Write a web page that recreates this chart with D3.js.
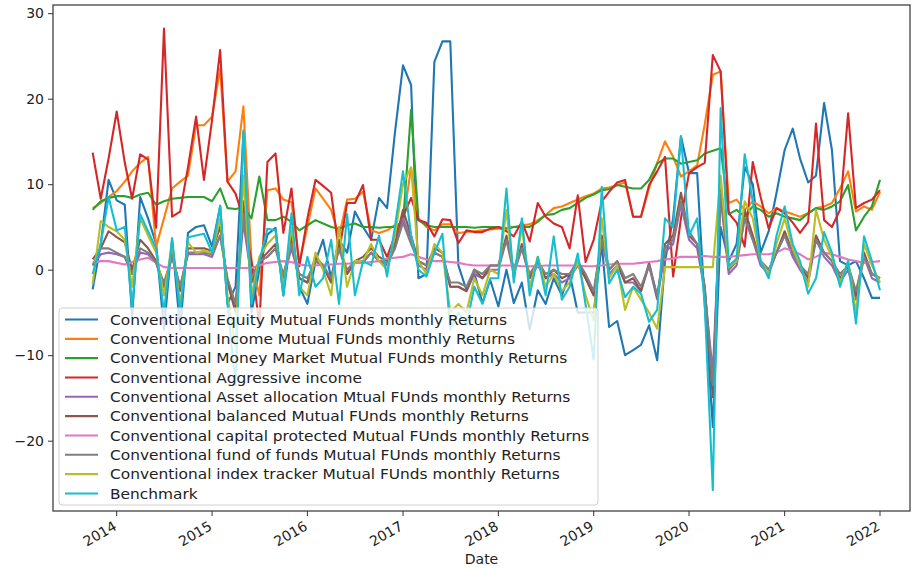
<!DOCTYPE html>
<html>
<head>
<meta charset="utf-8">
<script src="https://cdn.jsdelivr.net/npm/d3@7"></script>
<style>
  html, body { margin: 0; padding: 0; background: #fff; }
  svg { display: block; font-family: "DejaVu Sans", sans-serif; }
</style>
</head>
<body>
<svg id="chart" width="912" height="570"></svg>
<script>
// ---- data (monthly, 2013-10 .. 2022-01) ----
const startMonth = "2013-10-01";
const endMonth = "2022-01-01";

const seriesNames = [
  "Conventional Equity Mutual FUnds monthly Returns",
  "Conventional Income Mutual FUnds monthly Returns",
  "Conventional Money Market Mutual FUnds monthly Returns",
  "Conventional Aggressive income",
  "Conventional Asset allocation Mtual FUnds monthly Returns",
  "Conventional balanced Mutual FUnds monthly Returns",
  "Conventional capital protected Mutual FUnds monthly Returns",
  "Conventional fund of funds Mutual FUnds monthly Returns",
  "Conventional index tracker Mutual FUnds monthly Returns",
  "Benchmark"
];

const seriesColors = ["#1f77b4","#ff7f0e","#2ca02c","#d62728","#9467bd","#8c564b","#e377c2","#7f7f7f","#bcbd22","#17becf"];

const equity = [
  -2.3, 3, 10.5, 8.1, 7.6, -5.5, 8.5, 6, 3, -7,
  3.5, -7, 4.3, 5.0, 5.2, 2.7, 7.4, -4, -2, 16,
  -5, 0, 4.1, 4.9, -3, 4.5, -2, -4, 1, 3.5,
  -1, 3.5, 2, 6.8, 5.0, 3.5, 8.4, 7.2, 16, 23.9,
  21.6, -1, -0.5, 24.3, 26.7, 26.7, 0.5, -2.4, -0.4, -3.9,
  -1.2, -4.3, 0, -3.9, -1.5, -7, -2.4, -4, -1, -3,
  -0.5, -5, -5, -5, 3, -6.7, -6, -10, -9.4, -8.8,
  -6.5, -10.6, 1, 6, 15.6, 11.3, 11.3, -4, -18.4, 5,
  1, 3, 12, 10, 2, 4.5, 9, 14, 16.5, 13,
  10.2, 11, 19.5, 14, 1, 0.5, 1, -1, -3.3, -3.3
];
const income = [
  7.2, 7.8, 8.5, 9.2, 10.3, 11.5, 12.5, 13.2, 2.7, 6,
  9.5, 10.3, 11, 16.9, 16.9, 17.9, 23.5, 10.3, 11.5, 19.1,
  1, -3, 9.3, 9.5, 8.2, 7.9, 0.8, 5, 9.5, 8.3,
  7.0, 3.9, 8.2, 8.3, 9.1, 4.6, 4.3, 4.6, 5.2, 5.5,
  11.9, 6.0, 5.0, 4.6, 5.3, 5.3, 4.3, 4.4, 4.5, 4.6,
  4.7, 4.8, 4.9, 5.0, 5.2, 5.3, 5.8, 6.4, 7.2, 7.4,
  7.8, 8.2, 8.6, 8.9, 9.5, 9.6, 9.9, 10.2, 6.2, 6.2,
  9.5, 12.5, 15.0, 13.2, 10.9, 11.5, 12.2, 17, 22.8, 23.2,
  7.8, 8.2, 7.0, 8.0, 7.4, 6.6, 7.2, 6.8, 6.5, 6.2,
  6.6, 7.2, 7.4, 7.8, 9.5, 11.5, 6.8, 7.4, 7.0, 9.1
];
const moneyMarket = [
  7.0, 8.0, 8.4, 8.6, 8.6, 8.4, 8.8, 9.0, 7.6, 8.0,
  8.3, 8.4, 8.5, 8.5, 8.5, 8.0, 9.5, 7.2, 7.1, 7.3,
  6.0, 10.9, 5.8, 5.8, 6.2, 5.6, 4.6, 5.2, 5.8, 5.4,
  5.0, 4.8, 5.2, 5.4, 5.0, 5.0, 4.9, 5.0, 5.0, 5.4,
  18.7, 5.8, 5.2, 5.0, 5.0, 5.0, 5.0, 5.0, 4.9, 5.0,
  5.0, 5.0, 4.8, 5.0, 5.0, 5.0, 5.6, 6.4, 6.5, 7.0,
  7.2, 7.8, 8.4, 8.8, 9.3, 9.4, 9.9, 9.7, 9.5, 9.5,
  10.5, 12.4, 13.0, 13.0, 12.4, 12.6, 12.8, 13.6, 13.9, 14.2,
  6.5, 7.0, 6.2, 7.4, 7.0, 6.2, 6.6, 6.2, 6.0, 5.8,
  6.6, 7.2, 7.0, 7.4, 8.0, 9.9, 4.6, 6.2, 7.4, 10.5
];
const aggressive = [
  13.7, 8.3, 13, 18.5, 12.5, 8.3, 13.5, 12.9, 4.9, 28.2,
  6.2, 6.8, 12, 17.9, 10.5, 17.5, 25.7, 10.3, 8.9, 6,
  1, -6.5, 12.6, 13.6, 4.3, 9.5, 0.4, 6, 10.5, 9.8,
  9.0, 2, 7.8, 7.8, 9.9, 3.5, 3.5, 1.5, 4, 6.2,
  8.4, 5.8, 5.5, 3.9, 5.9, 5.8, 3.1, 4.6, 4.4, 4.4,
  4.8, 5.0, 4.5, 3.9, 5.6, 3.3, 7.8, 6.2, 5.4, 5.0,
  2.5, 8.7, 0.9, 3.5, 8, 9.1, 10.2, 10.5, 6.2, 6.2,
  9.9, 11.5, 13.2, -0.8, 6, 11.3, 12.0, 12.5, 25.1, 23.2,
  6.6, 5.5, 2.7, 12.6, 8.5, 4.8, 7.2, 6.6, 5.5, 4.3,
  5.6, 17.1, 5.8, 5.0, 7, 18.3, 7.2, 7.8, 8.2, 9.3
];
const assetAllocation = [
  0.5, 1.8, 2, 1.8, 1.5, -0.5, 2, 1.8, 0.8, -2,
  1.5, -2, 1.8, 1.8, 1.8, 1.5, 4, -1.2, -4.5, 5.5,
  -1, 1, 1.5, 2.5, -1, 2.5, -1, -1.5, 1, 0.3,
  -1.5, 2.5, -0.5, 0.8, 0.8, 2, 1, 0.5, 2.5, 6,
  3.5, 0.5, 0, 2, 1.5, -2, -2, -2.5, -0.5, -1,
  0, 0, 3.5, -0.5, 2.5, -1, 0.5, -1, -0.5, -1.5,
  -1, 0.5, -1, -3, 3.5, -0.5, 0.5, -1.5, -1.5, -2.5,
  0.5, -3.5, 2, 3, 7.6, 3.5, 2.5, -2.5, -12, 8.5,
  -0.5, 0.5, 6, 3.5, 0.5, -0.5, 2, 4, 1.5, 0,
  -1.5, 3.5, 1.5, 0.5, -1.5, 0, -3.5, 1.5, -1, -1.5
];
const balanced = [
  1.2, 2.5, 4.5, 3.8, 3.2, 0, 3.5, 2.5, 1, -2,
  2, -2.5, 2.5, 2.5, 2.5, 2.2, 5, -1.5, -5, 8,
  -1.5, 1, 2, 3, -1, 3.5, -1, -1.5, 1.5, 0.5,
  -1.5, 3, -0.5, 1, 1.5, 2.5, 1.5, 1, 3, 7,
  4, 1, 0.5, 2.5, 2, -2, -2, -2.5, 0, -1,
  0.5, 0.5, 4, 0, 3, -1, 1, -1, 0, -1,
  -0.5, 1, -1, -3, 4, 0, 1, -1.5, -1, -2.5,
  0.8, -3.2, 3, 4, 9, 4, 3, -2, -14.9, 10,
  0, 1, 7, 4, 1, 0, 2, 4.5, 2, 0.5,
  -1, 4, 2, 1, -1, 0.5, -3, 2, -0.5, -1
];
const capitalProtected = [
  0.8, 1.0, 1.0, 0.8, 0.6, 0.9, 1.2, 1.4, 0.8, 0.3,
  0.2, 0.2, 0.2, 0.2, 0.2, 0.2, 0.2, 0.2, 0.2, 0.2,
  0.2, 0.5, 0.8, 0.9, 1.0, 0.9, 0.6, 0.5, 0.5, 0.6,
  0.6, 0.7, 0.7, 0.8, 0.8, 0.9, 1.0, 1.3, 1.4, 1.5,
  1.8, 1.5, 1.2, 1.0, 1.0, 0.9, 0.8, 0.6, 0.5, 0.5,
  0.5, 0.5, 0.5, 0.5, 0.4, 0.4, 0.4, 0.5, 0.5, 0.5,
  0.5, 0.5, 0.4, 0.4, 0.5, 0.6, 0.7, 0.7, 0.7, 0.8,
  0.9, 1.0, 1.2, 1.3, 1.5, 1.5, 1.5, 1.6, 1.5, 1.5,
  1.5, 1.6, 1.7, 1.8, 1.8, 1.8, 2.0, 2.5, 2.2, 1.8,
  1.2, 1.5, 2.0, 1.8, 1.5, 1.2, 1.0, 0.8, 0.9, 1.0
];
const fundOfFunds = [
  0.5, 2.5, 2.5, 2, 1.5, -0.5, 2.5, 2, 0.8, -1.5,
  1.5, -2, 2, 2, 2, 1.8, 4, -1, -4, 6.5,
  -1, 1, 1.5, 2.5, -0.5, 3, -0.5, -1, 1, 0.5,
  -1, 2.5, 0, 1, 1, 2, 1, 0.8, 2.5, 5.5,
  3, 1, 0.5, 2, 1.5, -1.5, -1.5, -2, 0, -0.5,
  0.5, 0.5, 3.5, 0, 2.5, -0.5, 1, -0.5, 0, -0.5,
  -0.5, 1, -0.5, -2.5, 3.5, 0, 1, -1, -0.5, -2,
  0.5, -3, 2.5, 3.5, 8, 4.5, 3, -2, -13.5, 9,
  0, 1, 6, 3.5, 1, 0, 2, 4, 2, 0.5,
  -0.5, 3.5, 2, 1, -0.5, 0.5, -2.5, 1.5, -0.5, -1
];
const indexTracker = [
  -1.7, 5.7, 5, 4.5, 3.5, -2, 6, 4, 2, -3,
  3, -4, 3.2, 2, 2.2, 2, 6, -3, -9, 11,
  -3, 1.5, 3, 4, -2, 5, -2, -3, 2, 0,
  -3, 5, -2, 1, 1, 3, 1, 0, 4, 10,
  12, 1, -0.5, 3, 2, -5, -4, -5, -1, -3,
  0, -0.5, 7, -1, 5, -2, 1.5, -2, -0.5, -2.5,
  -1.5, 1, -3, -6, 6, -1, 0.5, -4.7, -2, -3.5,
  -5, -6.9, 0.3, 0.3, 0.3, 0.3, 0.3, 0.3, 0.3, 11,
  0.3, 1, 8, 6, 1, -0.5, 3, 6, 2.5, 0.5,
  -2, 7, 3.5, 1.5, -1.5, 1, -5, 3, 0.5, -1.5
];
const benchmark = [
  -0.5, 3, 8.5, 4.6, 5.0, -4.5, 6.5, 4.5, 2.5, -5,
  3.7, -5, 3.8, 4.0, 4.2, 2.0, 7.5, -4, -13.5, 16.3,
  -4, 1, 4.8, 4.6, -3, 6.6, -3, 1.5, -2, -1,
  3.5, -4, 6.5, -3, 1, 0.5, 4, -0.8, 5, 11.5,
  4, 0, -0.8, 2, 4.2, -7, -5, -6.5, -2, -4,
  -1, -1, 9.5, -1.5, 6.0, -3, 1.5, -3, 3.9, -3.5,
  -2, 1.9, -4.1, -10.5, 9.7, -1.6, 0, -3.2, -2, -2.8,
  -6.1, -4.7, 6, 5, 15.6, 4, 6, -4, -25.8, 18.9,
  0.4, 1.3, 13.5, 8, 1, -1, 4, 7.4, 3, 1,
  -2.8, -1, 4.4, 2, -2, 1, -6.3, 3.9, 1, -2.4
];

const seriesValues = [equity, income, moneyMarket, aggressive, assetAllocation,
  balanced, capitalProtected, fundOfFunds, indexTracker, benchmark];

const yTicks = [-20, -10, 0, 10, 20, 30];
const xTickYears = [2014, 2015, 2016, 2017, 2018, 2019, 2020, 2021, 2022];
const xLabel = "Date";

// ---- layout ----
const svg = d3.select("#chart");
const W = 912, H = 570;
const plot = { left: 53, top: 5, right: 910, bottom: 511 };

svg.append("rect").attr("width", W).attr("height", H).attr("fill", "#fff");

const months = d3.timeMonth.range(new Date(startMonth + "T00:00:00"), d3.timeMonth.offset(new Date(endMonth + "T00:00:00"), 1));

const x = d3.scaleTime()
  .domain([new Date(2014, 0, 1), new Date(2022, 0, 1)])
  .range([116.7, 880]);
const y = d3.scaleLinear().domain([-20, 30]).range([440.7, 13.2]);

// clip
svg.append("defs").append("clipPath").attr("id", "clip")
  .append("rect").attr("x", plot.left).attr("y", plot.top)
  .attr("width", plot.right - plot.left).attr("height", plot.bottom - plot.top);

const line = d3.line()
  .x((d, i) => x(months[i]))
  .y(d => y(d));

const gLines = svg.append("g").attr("clip-path", "url(#clip)");
seriesValues.forEach((vals, k) => {
  gLines.append("path")
    .datum(vals)
    .attr("fill", "none")
    .attr("stroke", seriesColors[k])
    .attr("stroke-width", 2.1)
    .attr("stroke-linejoin", "round")
    .attr("d", line);
});

// axes
const yAxis = d3.axisLeft(y).tickValues(yTicks).tickSize(5).tickPadding(4);
const gy = svg.append("g").attr("transform", `translate(${plot.left},0)`).call(yAxis);
gy.select(".domain").remove();
gy.selectAll("text").attr("font-size", 14).attr("fill", "#222").attr("font-family", "DejaVu Sans");
gy.selectAll("line").attr("stroke", "#333");

const xTickDates = xTickYears.map(yr => new Date(yr, 0, 1));
const gx = svg.append("g").attr("transform", `translate(0,${plot.bottom})`);
gx.selectAll("line.tick").data(xTickDates).join("line")
  .attr("x1", d => x(d)).attr("x2", d => x(d))
  .attr("y1", 0).attr("y2", 5).attr("stroke", "#333");
gx.selectAll("text.tick").data(xTickDates).join("text")
  .attr("transform", d => `translate(${x(d) + 1},${18}) rotate(-30)`)
  .attr("text-anchor", "end")
  .attr("font-size", 14)
  .attr("fill", "#222")
  .text(d => d3.timeFormat("%Y")(d));

svg.append("text")
  .attr("x", (plot.left + plot.right) / 2)
  .attr("y", 564)
  .attr("text-anchor", "middle")
  .attr("font-size", 14)
  .attr("fill", "#222")
  .text(xLabel);

// frame
svg.append("rect")
  .attr("x", plot.left).attr("y", plot.top)
  .attr("width", plot.right - plot.left).attr("height", plot.bottom - plot.top)
  .attr("fill", "none").attr("stroke", "#333").attr("stroke-width", 1.2);

// legend
const lg = svg.append("g").attr("transform", "translate(59,308)");
lg.append("rect")
  .attr("width", 539).attr("height", 197)
  .attr("rx", 3)
  .attr("fill", "#fff").attr("fill-opacity", 0.8)
  .attr("stroke", "#d0d0d0");
seriesNames.forEach((name, k) => {
  const cy = 11.5 + k * 19.33;
  lg.append("line")
    .attr("x1", 6).attr("x2", 39).attr("y1", cy).attr("y2", cy)
    .attr("stroke", seriesColors[k]).attr("stroke-width", 2.1);
  lg.append("text")
    .attr("transform", `translate(51,${cy}) scale(1.1,1)`)
    .attr("dy", "0.36em")
    .attr("font-size", 14).attr("fill", "#222")
    .text(name);
});
</script>
</body>
</html>
